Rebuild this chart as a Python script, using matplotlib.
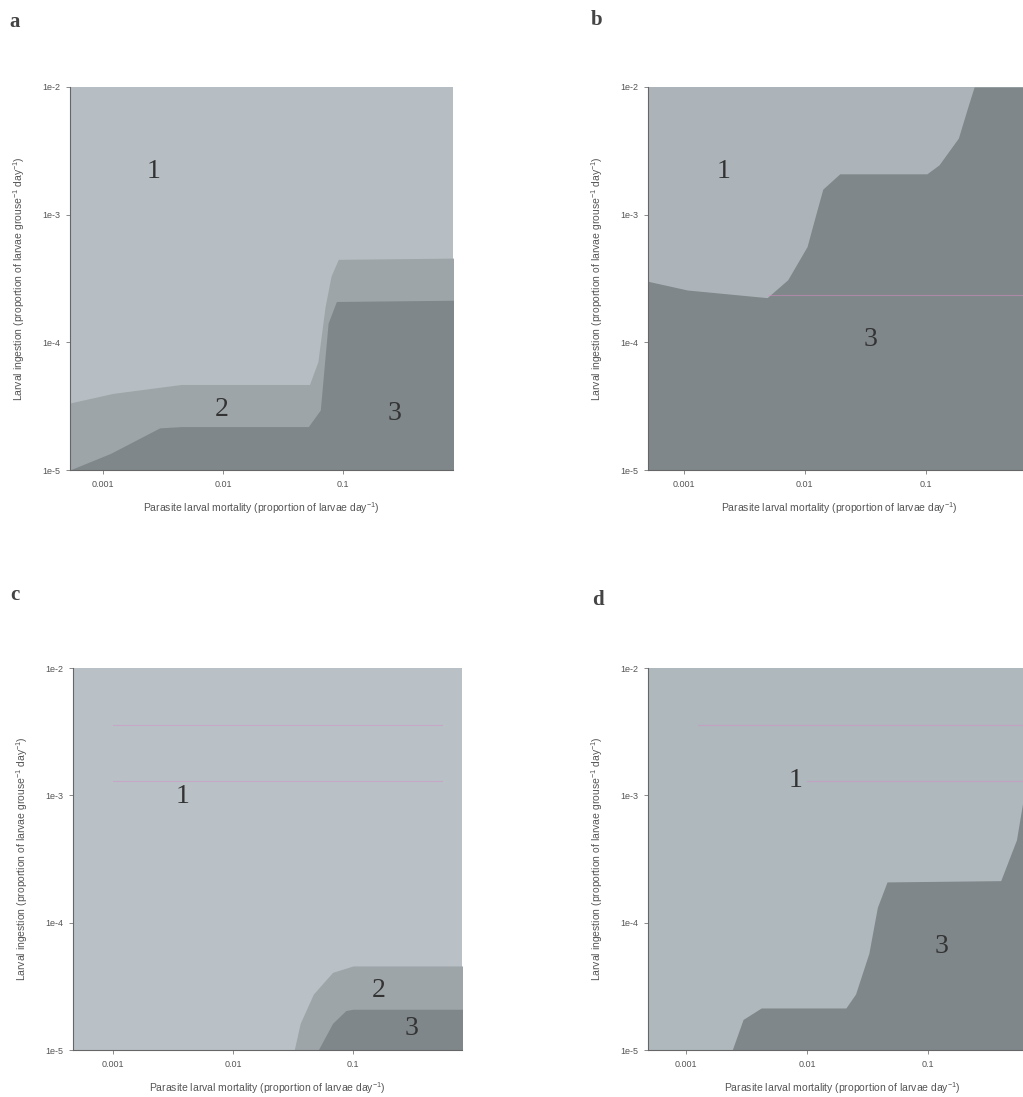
import numpy as np
import matplotlib
matplotlib.use('Agg')
import matplotlib.pyplot as plt

plt.rcParams['font.family'] = ['Liberation Sans', 'DejaVu Sans']
plt.rcParams['mathtext.default'] = 'regular'

# boundaries, in log10 units (x = larval mortality, y = ingestion)
# panel a: top of region 2 and top of region 3
a_b12_x = [-3.35, -2.92, -2.35, -1.28, -1.21, -1.15, -1.10, -1.04, -0.05]
a_b12_y = [-4.49, -4.40, -4.33, -4.33, -4.15, -3.72, -3.48, -3.35, -3.34]
a_b23_x = [-3.28, -2.94, -2.53, -2.35, -1.29, -1.19, -1.125, -1.056, -0.05]
a_b23_y = [-5.00, -4.87, -4.67, -4.66, -4.66, -4.53, -3.85, -3.68, -3.67]

# panel b: only regions 1 and 3
b_b13_x = [-3.35, -2.97, -2.31, -2.14, -1.98, -1.92, -1.85, -1.71, -0.99, -0.89, -0.73, -0.65, -0.60, -0.05]
b_b13_y = [-3.51, -3.59, -3.65, -3.51, -3.25, -3.04, -2.80, -2.68, -2.68, -2.61, -2.40, -2.15, -2.00, -2.00]

# panel c
c_b12_x = [-1.49, -1.44, -1.33, -1.17, -1.00, -0.05]
c_b12_y = [-5.00, -4.79, -4.56, -4.39, -4.34, -4.34]
c_b23_x = [-1.29, -1.17, -1.06, -1.00, -0.05]
c_b23_y = [-5.00, -4.79, -4.69, -4.68, -4.68]

# panel d: regions 1 and 3
d_b13_x = [-2.62, -2.53, -2.38, -1.68, -1.60, -1.49, -1.42, -1.34, -0.40, -0.27, -0.21, -0.12, -0.05]
d_b13_y = [-5.00, -4.76, -4.67, -4.67, -4.56, -4.24, -3.88, -3.68, -3.67, -3.35, -3.01, -2.40, -2.20]

# region number labels (log10 x, log10 y, text)
a_labels = [(-2.58, -2.66, '1'), (-2.01, -4.53, '2'), (-0.57, -4.56, '3')]
b_labels = [(-2.67, -2.66, '1'), (-1.46, -3.98, '3')]
c_labels = [(-2.42, -3.01, '1'), (-0.79, -4.53, '2'), (-0.51, -4.83, '3')]
d_labels = [(-2.10, -2.88, '1'), (-0.89, -4.19, '3')]

# faint pinkish scan streaks (log10 y, x start, x end)
b_streaks = [(-3.63, -2.30, -0.05)]
c_streaks = [(-2.45, -3.0, -0.26), (-2.89, -3.0, -0.26)]
d_streaks = [(-2.45, -2.9, -0.05), (-2.89, -2.0, -0.05)]

x_ticks = [0.001, 0.01, 0.1]
x_ticklabels = ['0.001', '0.01', '0.1']
y_ticks = [1e-5, 1e-4, 1e-3, 1e-2]
y_ticklabels = ['1e-5', '1e-4', '1e-3', '1e-2']

c1 = ['#b6bec3', '#acb4b9', '#b9c1c7', '#afb8bd']
c2 = '#9ea5a8'
c3 = '#80878a'

W, H = 1023, 1097
fig = plt.figure(figsize=(W / 100, H / 100), dpi=100)

# axes boxes in pixels: left, top, width, height
boxes = [(70, 87, 383, 383), (648, 87, 383, 383), (73, 668, 389, 382), (648, 668, 389, 382)]
xlims = [(-3.278, -0.083), (-3.294, -0.13), (-3.333, -0.092), (-3.316, -0.10)]
names = ['a', 'b', 'c', 'd']
name_pos = [(15, 22), (597, 20), (15, 595), (598, 600)]

panels = [
    ([(a_b12_x, a_b12_y, c2), (a_b23_x, a_b23_y, c3)], a_labels, []),
    ([(b_b13_x, b_b13_y, c3)], b_labels, b_streaks),
    ([(c_b12_x, c_b12_y, c2), (c_b23_x, c_b23_y, c3)], c_labels, c_streaks),
    ([(d_b13_x, d_b13_y, c3)], d_labels, d_streaks),
]

for i, (fills, labels, streaks) in enumerate(panels):
    l, t, w, h = boxes[i]
    ax = fig.add_axes([l / W, (H - t - h) / H, w / W, h / H])
    ax.set_xscale('log')
    ax.set_yscale('log')
    ax.set_facecolor(c1[i])
    for bx, by, col in fills:
        ax.fill_between(np.power(10.0, bx), 1e-5, np.power(10.0, by), color=col, lw=0)
    for sy, sx0, sx1 in streaks:
        ax.plot([10 ** sx0, 10 ** sx1], [10 ** sy, 10 ** sy], color='#d88cc4', lw=0.8, alpha=0.5)
    for lx, ly, s in labels:
        ax.text(10 ** lx, 10 ** ly, s, fontsize=20, family='Liberation Serif',
                color='#333333', ha='center', va='center')
    ax.set_xlim(10 ** xlims[i][0], 10 ** xlims[i][1])
    ax.set_ylim(1e-5, 1e-2)
    ax.set_xticks(x_ticks)
    ax.set_xticklabels(x_ticklabels)
    ax.set_yticks(y_ticks)
    ax.set_yticklabels(y_ticklabels)
    ax.minorticks_off()
    ax.tick_params(direction='out', length=3, width=0.6, color='#777777',
                   labelsize=6.5, labelcolor='#555555', pad=4)
    for side in ['top', 'right']:
        ax.spines[side].set_visible(False)
    for side in ['left', 'bottom']:
        ax.spines[side].set_color('#666666')
        ax.spines[side].set_linewidth(0.8)
    ax.set_xlabel('Parasite larval mortality (proportion of larvae day$^{-1}$)',
                  fontsize=7.5, color='#555555')
    ax.set_ylabel('Larval ingestion (proportion of larvae grouse$^{-1}$ day$^{-1}$)',
                  fontsize=7.5, color='#555555')
    ax.xaxis.set_label_coords(0.5, -30 / h)
    ax.yaxis.set_label_coords(-43 / w, 0.5)

    nx, ny = name_pos[i]
    fig.text(nx / W, 1 - ny / H, names[i], fontsize=15, fontweight='bold',
             family='Liberation Serif', color='#444444', ha='center', va='center')

fig.savefig('out.png', dpi=100)
